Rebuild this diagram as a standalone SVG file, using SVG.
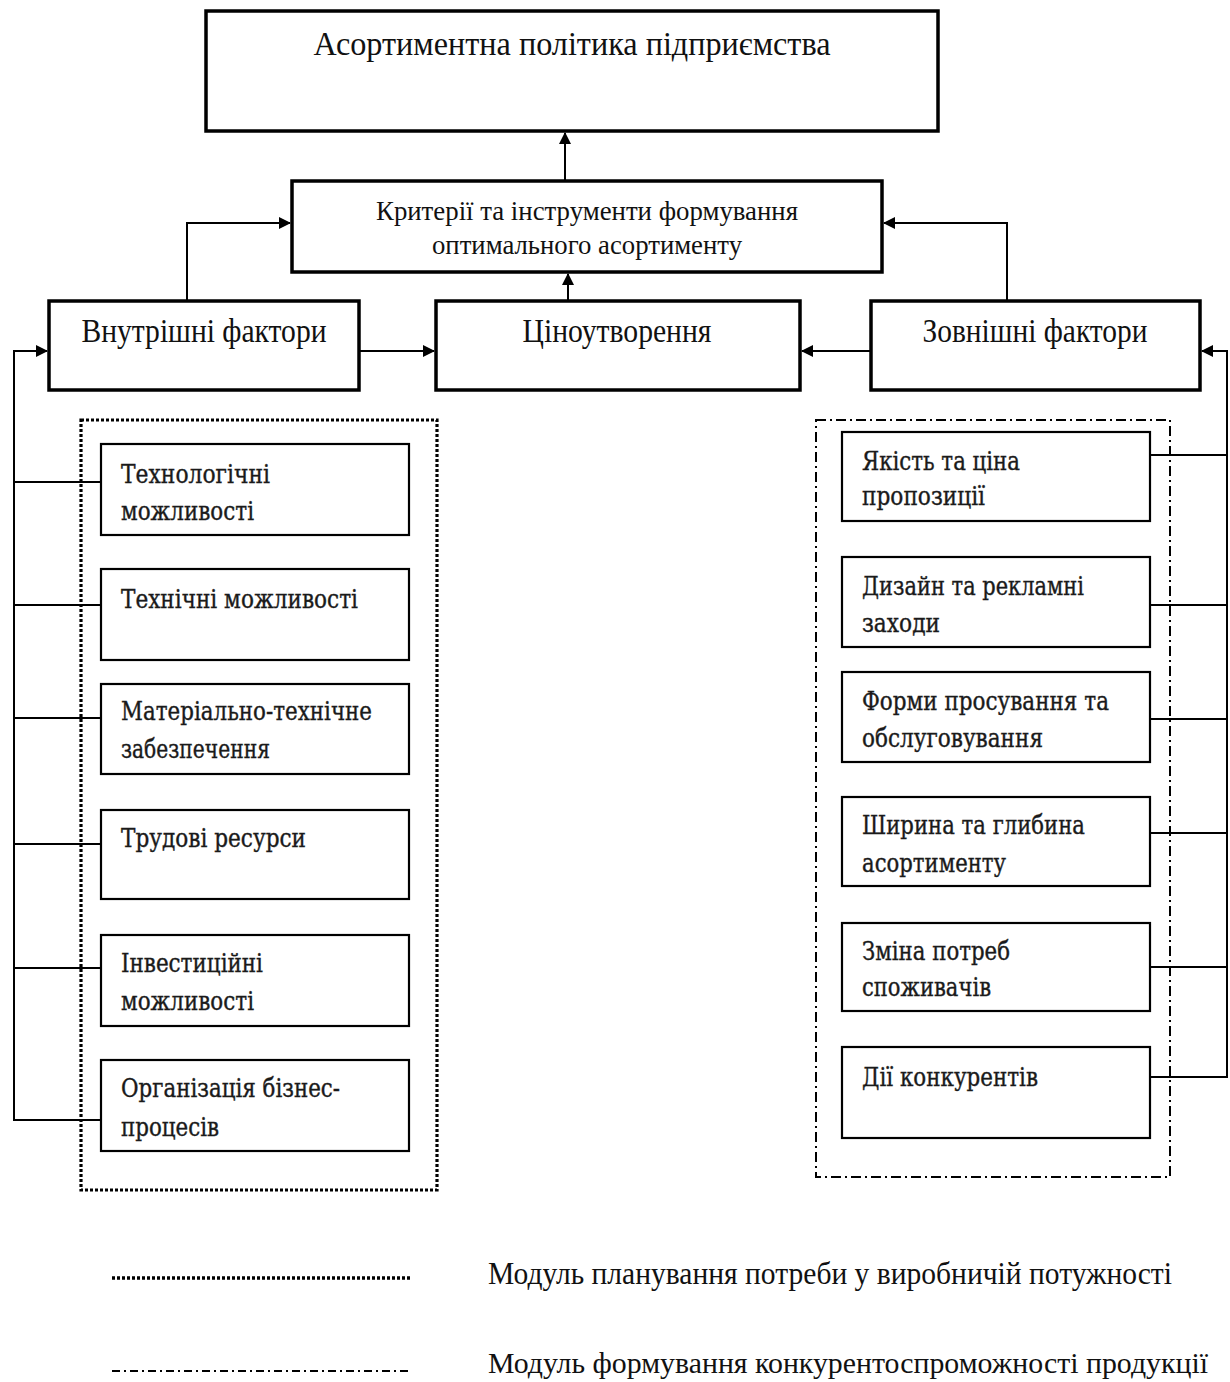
<svg xmlns="http://www.w3.org/2000/svg" width="1230" height="1382" viewBox="0 0 1230 1382">
<style>
.bg{fill:#fff}
.main{fill:#fff;stroke:#000;stroke-width:3.5}
.inner{fill:#fff;stroke:#000;stroke-width:2.2}
.con{fill:none;stroke:#000;stroke-width:2}
.arr{fill:none;stroke:#000;stroke-width:2;marker-end:url(#ah)}
.dot{fill:none;stroke:#000;stroke-width:3.2;stroke-dasharray:3 2}
.dd{fill:none;stroke:#000;stroke-width:2;stroke-dasharray:10 4 2 4}
.t{font-family:"Liberation Serif","Times New Roman",serif;fill:#111}
.i{font-family:"DejaVu Serif","Liberation Serif",serif;fill:#1a1a1a;font-size:26px;stroke:#1a1a1a;stroke-width:0.4}
</style>
<defs>
<marker id="ah" markerWidth="12" markerHeight="12" refX="11" refY="6" orient="auto" markerUnits="userSpaceOnUse">
<path d="M0,0 L12,6 L0,12 z" fill="#000"/>
</marker>
</defs>
<rect class="bg" x="0" y="0" width="1230" height="1382"/>

<g id="connectors">
<line class="arr" x1="565" y1="181" x2="565" y2="133"/>
<line class="arr" x1="568" y1="301" x2="568" y2="274"/>
<polyline class="arr" points="187,301 187,223 290,223"/>
<polyline class="arr" points="1007,301 1007,223 884,223"/>
<line class="arr" x1="359" y1="351" x2="434" y2="351"/>
<line class="arr" x1="871" y1="351" x2="802" y2="351"/>
<polyline class="arr" points="101,1120 14,1120 14,351 47,351"/>
<line class="con" x1="14" y1="482" x2="101" y2="482"/>
<line class="con" x1="14" y1="605" x2="101" y2="605"/>
<line class="con" x1="14" y1="718" x2="101" y2="718"/>
<line class="con" x1="14" y1="844" x2="101" y2="844"/>
<line class="con" x1="14" y1="968" x2="101" y2="968"/>
<polyline class="arr" points="1150,1077 1227,1077 1227,351 1202,351"/>
<line class="con" x1="1150" y1="455" x2="1227" y2="455"/>
<line class="con" x1="1150" y1="605" x2="1227" y2="605"/>
<line class="con" x1="1150" y1="719" x2="1227" y2="719"/>
<line class="con" x1="1150" y1="833" x2="1227" y2="833"/>
<line class="con" x1="1150" y1="967" x2="1227" y2="967"/>
</g>

<g id="modules">
<rect class="dot" x="81" y="420" width="356" height="770"/>
<rect class="dd" x="816" y="420" width="354" height="757"/>
</g>

<g id="policy">
<rect class="main" x="206" y="11" width="732" height="120"/>
<text class="t" x="572" y="55" font-size="34" text-anchor="middle" textLength="517" lengthAdjust="spacingAndGlyphs">Асортиментна політика підприємства</text>
</g>
<g id="criteria">
<rect class="main" x="292" y="181" width="590" height="91"/>
<text class="t" x="587" y="220" font-size="27" text-anchor="middle" textLength="422" lengthAdjust="spacingAndGlyphs">Критерії та інструменти формування</text>
<text class="t" x="587" y="254" font-size="27" text-anchor="middle" textLength="310" lengthAdjust="spacingAndGlyphs">оптимального асортименту</text>
</g>
<g id="internal">
<rect class="main" x="49" y="301" width="310" height="89"/>
<text class="t" x="204" y="342" font-size="33" text-anchor="middle" textLength="245" lengthAdjust="spacingAndGlyphs">Внутрішні фактори</text>
</g>
<g id="pricing">
<rect class="main" x="436" y="301" width="364" height="89"/>
<text class="t" x="617" y="342" font-size="33" text-anchor="middle" textLength="189" lengthAdjust="spacingAndGlyphs">Ціноутворення</text>
</g>
<g id="external">
<rect class="main" x="871" y="301" width="329" height="89"/>
<text class="t" x="1035" y="342" font-size="33" text-anchor="middle" textLength="225" lengthAdjust="spacingAndGlyphs">Зовнішні фактори</text>
</g>

<g id="i1">
<rect class="inner" x="101" y="444" width="308" height="91"/>
<text class="i" x="121" y="483" textLength="149" lengthAdjust="spacingAndGlyphs">Технологічні</text>
<text class="i" x="121" y="520" textLength="133" lengthAdjust="spacingAndGlyphs">можливості</text>
</g>
<g id="i2">
<rect class="inner" x="101" y="569" width="308" height="91"/>
<text class="i" x="121" y="608" textLength="237" lengthAdjust="spacingAndGlyphs">Технічні можливості</text>
</g>
<g id="i3">
<rect class="inner" x="101" y="684" width="308" height="90"/>
<text class="i" x="121" y="720" textLength="251" lengthAdjust="spacingAndGlyphs">Матеріально-технічне</text>
<text class="i" x="121" y="758" textLength="149" lengthAdjust="spacingAndGlyphs">забезпечення</text>
</g>
<g id="i4">
<rect class="inner" x="101" y="810" width="308" height="89"/>
<text class="i" x="121" y="847" textLength="185" lengthAdjust="spacingAndGlyphs">Трудові ресурси</text>
</g>
<g id="i5">
<rect class="inner" x="101" y="935" width="308" height="91"/>
<text class="i" x="121" y="972" textLength="142" lengthAdjust="spacingAndGlyphs">Інвестиційні</text>
<text class="i" x="121" y="1010" textLength="133" lengthAdjust="spacingAndGlyphs">можливості</text>
</g>
<g id="i6">
<rect class="inner" x="101" y="1060" width="308" height="91"/>
<text class="i" x="121" y="1097" textLength="219" lengthAdjust="spacingAndGlyphs">Організація бізнес-</text>
<text class="i" x="121" y="1136" textLength="98" lengthAdjust="spacingAndGlyphs">процесів</text>
</g>

<g id="e1">
<rect class="inner" x="842" y="432" width="308" height="89"/>
<text class="i" x="862" y="470" textLength="158" lengthAdjust="spacingAndGlyphs">Якість та ціна</text>
<text class="i" x="862" y="505" textLength="123" lengthAdjust="spacingAndGlyphs">пропозиції</text>
</g>
<g id="e2">
<rect class="inner" x="842" y="557" width="308" height="90"/>
<text class="i" x="862" y="595" textLength="222" lengthAdjust="spacingAndGlyphs">Дизайн та рекламні</text>
<text class="i" x="862" y="632" textLength="78" lengthAdjust="spacingAndGlyphs">заходи</text>
</g>
<g id="e3">
<rect class="inner" x="842" y="672" width="308" height="90"/>
<text class="i" x="862" y="710" textLength="247" lengthAdjust="spacingAndGlyphs">Форми просування та</text>
<text class="i" x="862" y="747" textLength="181" lengthAdjust="spacingAndGlyphs">обслуговування</text>
</g>
<g id="e4">
<rect class="inner" x="842" y="797" width="308" height="89"/>
<text class="i" x="862" y="834" textLength="223" lengthAdjust="spacingAndGlyphs">Ширина та глибина</text>
<text class="i" x="862" y="872" textLength="144" lengthAdjust="spacingAndGlyphs">асортименту</text>
</g>
<g id="e5">
<rect class="inner" x="842" y="923" width="308" height="88"/>
<text class="i" x="862" y="960" textLength="148" lengthAdjust="spacingAndGlyphs">Зміна потреб</text>
<text class="i" x="862" y="996" textLength="129" lengthAdjust="spacingAndGlyphs">споживачів</text>
</g>
<g id="e6">
<rect class="inner" x="842" y="1047" width="308" height="91"/>
<text class="i" x="862" y="1086" textLength="176" lengthAdjust="spacingAndGlyphs">Дії конкурентів</text>
</g>

<g id="legend">
<line class="dot" x1="112" y1="1278" x2="410" y2="1278" style="stroke-width:3.6"/>
<text class="t" x="488" y="1284" font-size="31" textLength="684" lengthAdjust="spacingAndGlyphs">Модуль планування потреби у виробничій потужності</text>
<line class="dd" x1="112" y1="1371" x2="410" y2="1371" style="stroke-dasharray:8 4 2 4"/>
<text class="t" x="488" y="1373" font-size="29" textLength="720" lengthAdjust="spacingAndGlyphs">Модуль формування конкурентоспроможності продукції</text>
</g>
</svg>
